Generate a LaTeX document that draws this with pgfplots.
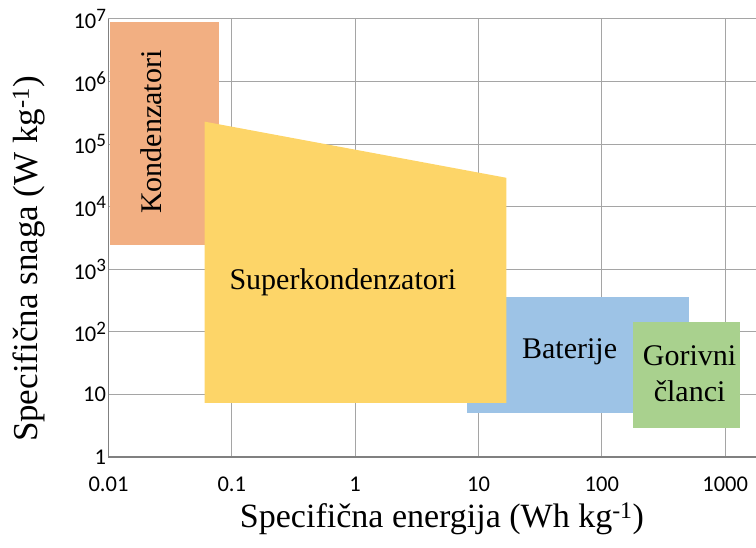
\documentclass[border=0pt]{standalone}
\usepackage{fontspec}
\setmainfont{Liberation Serif}
\newfontfamily\tickfont{Carlito}
\usepackage{pgfplots}
\pgfplotsset{compat=1.18}
\definecolor{cOr}{HTML}{F2AF82}
\definecolor{cYe}{HTML}{FDD568}
\definecolor{cBl}{HTML}{9DC3E6}
\definecolor{cGr}{HTML}{A9D18E}
\definecolor{cGrid}{RGB}{165,165,165}
\definecolor{cAx}{RGB}{128,128,128}
\newcommand\tsup[1]{\raisebox{7.5pt}{\fontsize{19}{19}\selectfont #1}}
\begin{document}
\begin{tikzpicture}
\path[use as bounding box] (0,0) rectangle (756pt,548pt);
\begin{axis}[
  at={(108.5pt,91pt)}, anchor=south west,
  scale only axis, width=647.5pt, height=438pt,
  xmode=log, ymode=log,
  xmin=0.01, xmax=1778, ymin=1, ymax=1e7,
  axis lines=left,
  axis line style={-, draw=cAx, line width=1.3pt},
  xtick={0.01,0.1,1,10,100,1000},
  xticklabels={0.01,0.1,1,10,100,1000},
  ytick={1,10,100,1000,10000,100000,1000000,10000000},
  yticklabels={1,10,10\tsup{2},10\tsup{3},10\tsup{4},10\tsup{5},10\tsup{6},10\tsup{7}},
  minor tick num=0,
  grid=major,
  major grid style={draw=cGrid, line width=1pt},
  major tick length=0pt, minor tick length=0pt,
  xticklabel style={font=\tickfont\fontsize{22.5}{22.5}\selectfont, yshift=-16pt},
  yticklabel style={font=\tickfont\fontsize{22.5}{22.5}\selectfont, xshift=1pt},
  xlabel={Specifična energija (Wh kg\textsuperscript{-1})},
  ylabel={Specifična snaga (W kg\textsuperscript{-1})},
  xlabel style={at={(axis description cs:0.515,-0.160)}, anchor=base, font=\fontsize{34}{34}\selectfont},
  ylabel style={at={(axis description cs:-0.109,0.452)}, anchor=base, font=\fontsize{35}{35}\selectfont},
]
% Kondenzatori
\addplot[fill=cOr, draw=none] coordinates {(0.0103,2480) (0.0785,2480) (0.0785,8.9e6) (0.0103,8.9e6)} -- cycle;
% Baterije
\addplot[fill=cBl, draw=none] coordinates {(8.05,5.0) (508,5.0) (508,367) (8.05,367)} -- cycle;
% Gorivni clanci
\addplot[fill=cGr, draw=none] coordinates {(178.6,2.88) (1309,2.88) (1309,143) (178.6,143)} -- cycle;
% Superkondenzatori
\addplot[fill=cYe, draw=none] coordinates {(0.0601,7.3) (16.8,7.3) (16.8,2.9e4) (0.0601,2.29e5)} -- cycle;

\node[rotate=90, font=\fontsize{30}{30}\selectfont] at (axis cs:0.0222,1.56e5) {Kondenzatori};
\node[anchor=base, font=\fontsize{30}{30}\selectfont] at (axis cs:0.795,467) {Superkondenzatori};
\node[anchor=base, font=\fontsize{30}{30}\selectfont] at (axis cs:54.8,38.2) {Baterije};
\node[anchor=base, font=\fontsize{30}{30}\selectfont] at (axis cs:515,29.5) {Gorivni};
\node[anchor=base, font=\fontsize{30}{30}\selectfont] at (axis cs:515,7.65) {članci};
\end{axis}
\end{tikzpicture}
\end{document}
